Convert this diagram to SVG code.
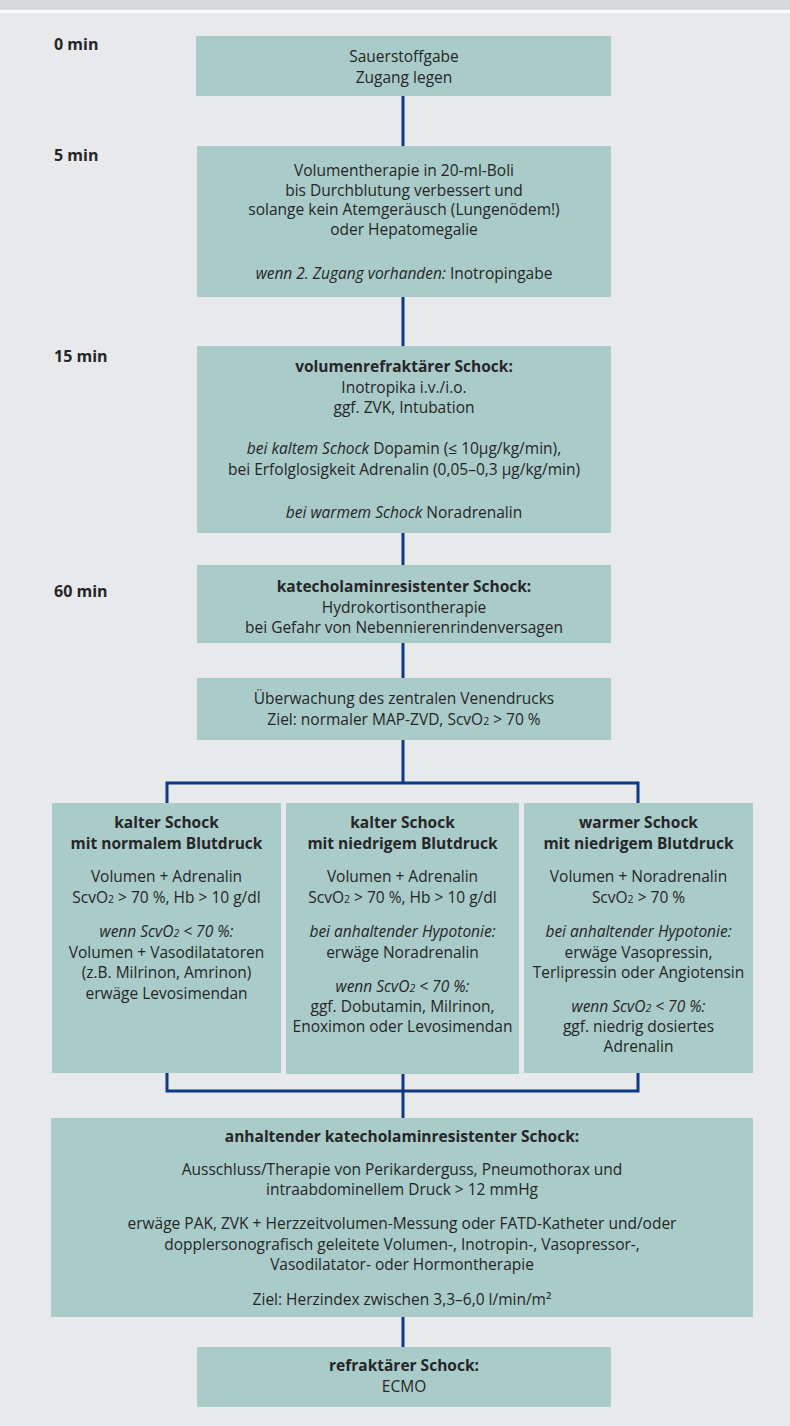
<svg xmlns="http://www.w3.org/2000/svg" width="790" height="1426" viewBox="0 0 790 1426">
<style>
.bg{fill:#e8e9eb}
.band{fill:#d8d9db}
.box{fill:#a9ccc8}
.t{font-family:"Open Sans","Noto Sans",sans-serif;font-size:15.5px;fill:#262626;text-anchor:middle}
.b{font-weight:bold}
.i{font-style:italic}
.s{font-size:10.5px}
.tm{font-family:"Open Sans","Noto Sans",sans-serif;font-size:16px;font-weight:bold;fill:#262626}
.c{stroke:#0b3a86;stroke-width:3;fill:none}
</style>
<rect class="bg" x="0" y="0" width="790" height="1426"/>
<rect class="band" x="0" y="0" width="790" height="10"/>
<rect x="0" y="10" width="790" height="3" fill="#ffffff"/>

<g id="connectors">
<path class="c" d="M403 96V146M403 297V346M403 533V565M403 643V678M403 740V783M167 803V783H638V803"/>
<path class="c" d="M167 1073V1091H638V1073M403 1074V1118M403 1317V1347"/>
</g>

<g id="time-labels">
<text class="tm" x="54" y="50">0 min</text>
<text class="tm" x="54" y="161">5 min</text>
<text class="tm" x="54" y="362">15 min</text>
<text class="tm" x="54" y="597">60 min</text>
</g>

<g id="n1">
<rect class="box" x="196" y="36" width="415" height="60"/>
<text class="t" x="404" y="61.5">Sauerstoffgabe</text>
<text class="t" x="404" y="82.5">Zugang legen</text>
</g>

<g id="n2">
<rect class="box" x="197" y="146" width="414" height="151"/>
<text class="t" x="404" y="176">Volumentherapie in 20-ml-Boli</text>
<text class="t" x="404" y="195.5">bis Durchblutung verbessert und</text>
<text class="t" x="404" y="215">solange kein Atemgeräusch (Lungenödem!)</text>
<text class="t" x="404" y="235">oder Hepatomegalie</text>
<text class="t" x="404" y="279"><tspan class="i">wenn 2. Zugang vorhanden:</tspan> Inotropingabe</text>
</g>

<g id="n3">
<rect class="box" x="197" y="346" width="414" height="187"/>
<text class="t b" x="404" y="372">volumenrefraktärer Schock:</text>
<text class="t" x="404" y="392.5">Inotropika i.v./i.o.</text>
<text class="t" x="404" y="413">ggf. ZVK, Intubation</text>
<text class="t" x="404" y="454"><tspan class="i">bei kaltem Schock</tspan>  Dopamin (≤ 10µg/kg/min),</text>
<text class="t" x="404" y="475">bei Erfolglosigkeit Adrenalin (0,05–0,3 µg/kg/min)</text>
<text class="t" x="404" y="518"><tspan class="i">bei warmem Schock</tspan>  Noradrenalin</text>
</g>

<g id="n4">
<rect class="box" x="197" y="565" width="414" height="78"/>
<text class="t b" x="404" y="592">katecholaminresistenter Schock:</text>
<text class="t" x="404" y="613">Hydrokortisontherapie</text>
<text class="t" x="404" y="633">bei Gefahr von Nebennierenrindenversagen</text>
</g>

<g id="n5">
<rect class="box" x="197" y="678" width="414" height="62"/>
<text class="t" x="404" y="704">Überwachung des zentralen Venendrucks</text>
<text class="t" x="404" y="725">Ziel: normaler MAP-ZVD, ScvO<tspan class="s">2</tspan> &gt; 70 %</text>
</g>

<g id="n6">
<rect class="box" x="52" y="803" width="229" height="270"/>
<text class="t b" x="166.5" y="828">kalter Schock</text>
<text class="t b" x="166.5" y="849">mit normalem Blutdruck</text>
<text class="t" x="166.5" y="882">Volumen + Adrenalin</text>
<text class="t" x="166.5" y="903">ScvO<tspan class="s">2</tspan> &gt; 70 %, Hb &gt; 10 g/dl</text>
<text class="t i" x="166.5" y="937">wenn ScvO<tspan class="s">2</tspan> &lt; 70 %:</text>
<text class="t" x="166.5" y="957.5">Volumen + Vasodilatatoren</text>
<text class="t" x="166.5" y="978">(z.B. Milrinon, Amrinon)</text>
<text class="t" x="166.5" y="998.5">erwäge Levosimendan</text>
</g>

<g id="n7">
<rect class="box" x="286" y="803" width="233" height="271"/>
<text class="t b" x="402.5" y="828">kalter Schock</text>
<text class="t b" x="402.5" y="849">mit niedrigem Blutdruck</text>
<text class="t" x="402.5" y="882">Volumen + Adrenalin</text>
<text class="t" x="402.5" y="903">ScvO<tspan class="s">2</tspan> &gt; 70 %, Hb &gt; 10 g/dl</text>
<text class="t i" x="402.5" y="937">bei anhaltender Hypotonie:</text>
<text class="t" x="402.5" y="957.5">erwäge Noradrenalin</text>
<text class="t i" x="402.5" y="991.5">wenn ScvO<tspan class="s">2</tspan> &lt; 70 %:</text>
<text class="t" x="402.5" y="1012">ggf. Dobutamin, Milrinon,</text>
<text class="t" x="402.5" y="1032">Enoximon oder Levosimendan</text>
</g>

<g id="n8">
<rect class="box" x="524" y="803" width="229" height="270"/>
<text class="t b" x="638.5" y="828">warmer Schock</text>
<text class="t b" x="638.5" y="849">mit niedrigem Blutdruck</text>
<text class="t" x="638.5" y="882">Volumen + Noradrenalin</text>
<text class="t" x="638.5" y="903">ScvO<tspan class="s">2</tspan> &gt; 70 %</text>
<text class="t i" x="638.5" y="937">bei anhaltender Hypotonie:</text>
<text class="t" x="638.5" y="957.5">erwäge Vasopressin,</text>
<text class="t" x="638.5" y="978">Terlipressin oder Angiotensin</text>
<text class="t i" x="638.5" y="1012">wenn ScvO<tspan class="s">2</tspan> &lt; 70 %:</text>
<text class="t" x="638.5" y="1032">ggf. niedrig dosiertes</text>
<text class="t" x="638.5" y="1052">Adrenalin</text>
</g>

<g id="n9">
<rect class="box" x="51" y="1118" width="702" height="199"/>
<text class="t b" x="402" y="1142">anhaltender katecholaminresistenter Schock:</text>
<text class="t" x="402" y="1175">Ausschluss/Therapie von Perikarderguss, Pneumothorax und</text>
<text class="t" x="402" y="1195">intraabdominellem Druck &gt; 12 mmHg</text>
<text class="t" x="402" y="1229">erwäge PAK, ZVK + Herzzeitvolumen-Messung oder FATD-Katheter und/oder</text>
<text class="t" x="402" y="1250">dopplersonografisch geleitete Volumen-, Inotropin-, Vasopressor-,</text>
<text class="t" x="402" y="1270">Vasodilatator- oder Hormontherapie</text>
<text class="t" x="402" y="1305">Ziel: Herzindex zwischen 3,3–6,0 l/min/m²</text>
</g>

<g id="n10">
<rect class="box" x="197" y="1347" width="414" height="60"/>
<text class="t b" x="404" y="1371">refraktärer Schock:</text>
<text class="t" x="404" y="1392">ECMO</text>
</g>
</svg>
